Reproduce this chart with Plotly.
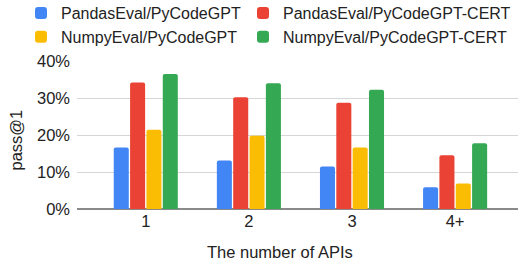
import plotly.graph_objects as go

categories = ["1", "2", "3", "4+"]
series_names = [
    "PandasEval/PyCodeGPT",
    "PandasEval/PyCodeGPT-CERT",
    "NumpyEval/PyCodeGPT",
    "NumpyEval/PyCodeGPT-CERT",
]
pandas_pycodegpt = [16.6, 13.1, 11.5, 5.9]
pandas_cert = [34.2, 30.2, 28.7, 14.5]
numpy_pycodegpt = [21.4, 19.8, 16.6, 6.9]
numpy_cert = [36.5, 34.0, 32.2, 17.8]
y_ticks = [0, 10, 20, 30, 40]
y_tick_labels = ["0%", "10%", "20%", "30%", "40%"]

colors = ["#4285F4", "#EA4335", "#FBBC04", "#34A853"]
values = [pandas_pycodegpt, pandas_cert, numpy_pycodegpt, numpy_cert]
legend_ids = ["legend", "legend2", "legend", "legend2"]

FONT = "Liberation Sans, Arial, sans-serif"
TXT = "#222222"

fig = go.Figure()
for name, vals, col, lg in zip(series_names, values, colors, legend_ids):
    fig.add_trace(go.Bar(
        x=categories, y=vals, name=name, legend=lg,
        marker=dict(color=col, line=dict(width=0), cornerradius=2),
    ))

W, H = 518, 266
L, R, T, B = 77, 0, 61, 57
PH = H - T - B  # plot height in px
LEG_TOP = -4    # legend top, in px from the top of the page

legend_common = dict(
    orientation="v", xref="container", yref="paper",
    xanchor="left", yanchor="top",
    font=dict(family=FONT, size=16, color=TXT),
    itemwidth=30, tracegroupgap=0,
    bgcolor="rgba(0,0,0,0)", borderwidth=0,
)

fig.update_layout(
    width=W, height=H,
    margin=dict(l=L, r=R, t=T, b=B, pad=0, autoexpand=False),
    paper_bgcolor="white", plot_bgcolor="white",
    barmode="group", bargap=0.366, bargroupgap=0.08,
    font=dict(family=FONT, size=16.5, color=TXT),
    showlegend=True,
    legend=dict(x=21 / W, y=(H - B - LEG_TOP) / PH, **legend_common),
    legend2=dict(x=243 / W, y=(H - B - LEG_TOP) / PH, **legend_common),
    xaxis=dict(
        type="category", range=[-0.667, 3.61],
        showgrid=False, zeroline=False, showline=False, ticks="",
        tickfont=dict(family=FONT, size=16.5, color=TXT),
    ),
    yaxis=dict(
        range=[0, 40], tickvals=y_ticks, ticktext=y_tick_labels,
        showgrid=True, gridcolor="#d6d6d6", gridwidth=1,
        zeroline=True, zerolinecolor="#8a8a8a", zerolinewidth=2,
        showline=False, ticks="",
        tickfont=dict(family=FONT, size=16.5, color=TXT),
        ticklabelstandoff=6,
    ),
    annotations=[
        dict(text="The number of APIs", xref="paper", yref="paper",
             x=(280 - L) / (W - L - R), y=(H - B - 252) / PH,
             xanchor="center", yanchor="middle", showarrow=False,
             font=dict(family=FONT, size=16.5, color=TXT)),
        dict(text="pass@1", xref="paper", yref="paper",
             x=(15.5 - L) / (W - L - R), y=(H - B - 140) / PH,
             xanchor="center", yanchor="middle", showarrow=False, textangle=-90,
             font=dict(family=FONT, size=16.5, color=TXT)),
    ],
)

fig.write_html("out.html", config={"displayModeBar": False},
               post_script="document.body.style.margin='0px';")
